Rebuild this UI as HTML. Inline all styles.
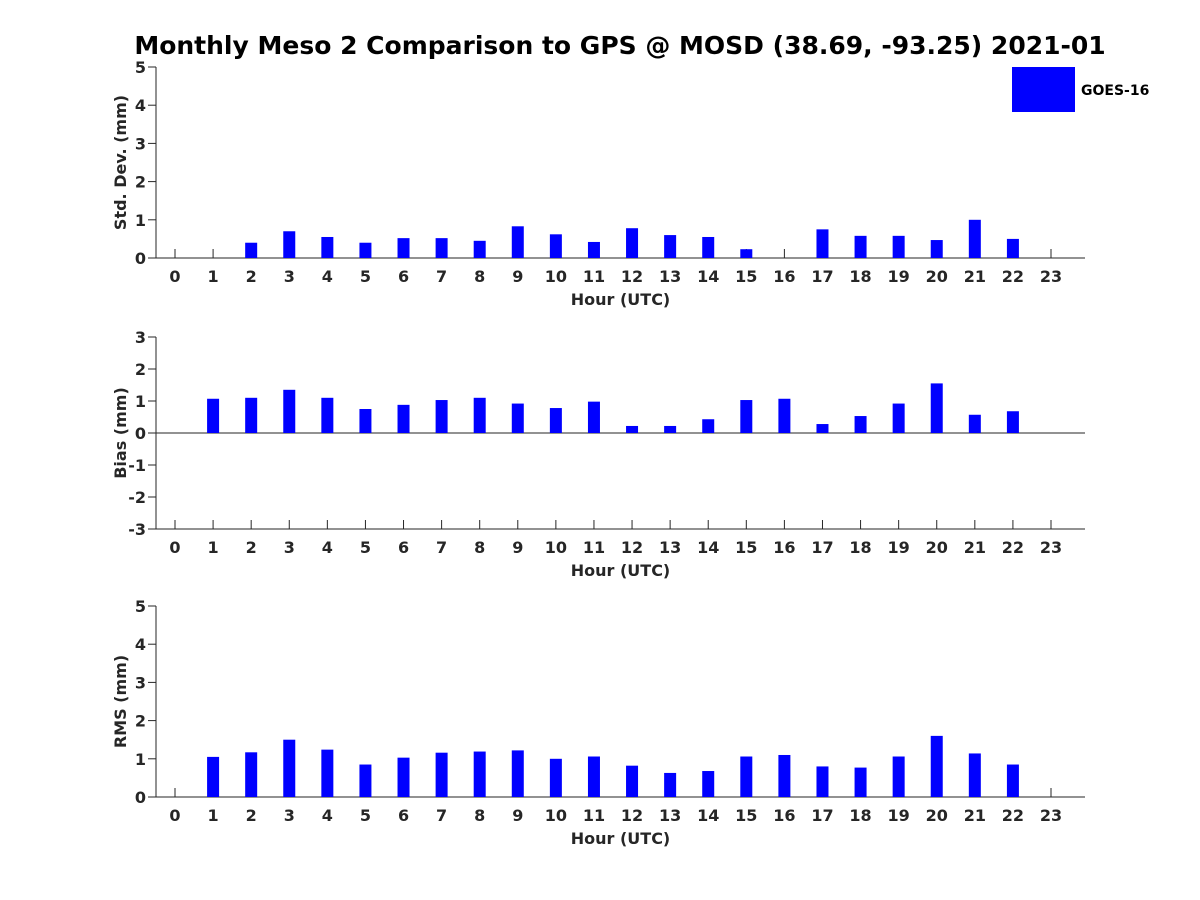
<!DOCTYPE html>
<html><head><meta charset="utf-8"><style>body{margin:0;background:#fff}svg{display:block}text{font-family:"DejaVu Sans","Liberation Sans",sans-serif;font-weight:bold;fill:#262626}</style></head>
<body>
<svg id="c" width="1200" height="900" xmlns="http://www.w3.org/2000/svg">
<text x="620" y="54" text-anchor="middle" font-size="25" style="fill:#000">Monthly Meso 2 Comparison to GPS @ MOSD (38.69, -93.25) 2021-01</text>
<rect x="1012" y="67" width="63" height="45" fill="#0000ff"/>
<text x="1081" y="95" font-size="14" style="fill:#000">GOES-16</text>
</svg>
<script>
const hours=[0,1,2,3,4,5,6,7,8,9,10,11,12,13,14,15,16,17,18,19,20,21,22,23];
const stdVals=[null,null,0.4,0.7,0.55,0.4,0.52,0.52,0.45,0.83,0.62,0.42,0.78,0.6,0.55,0.23,null,0.75,0.58,0.58,0.47,1.0,0.5,null];
const biasVals=[null,1.07,1.1,1.35,1.1,0.75,0.88,1.03,1.1,0.92,0.78,0.98,0.22,0.22,0.43,1.03,1.07,0.28,0.53,0.92,1.55,0.57,0.68,null];
const rmsVals=[null,1.05,1.17,1.5,1.24,0.85,1.03,1.16,1.19,1.22,1.0,1.06,0.82,0.63,0.68,1.06,1.1,0.8,0.77,1.06,1.6,1.14,0.85,null];
const stdTicks=[0,1,2,3,4,5];
const biasTicks=[-3,-2,-1,0,1,2,3];
const rmsTicks=[0,1,2,3,4,5];
const svg=document.getElementById('c');
const NS='http://www.w3.org/2000/svg';
function mk(tag,attrs){const e=document.createElementNS(NS,tag);for(const k in attrs)e.setAttribute(k,attrs[k]);svg.appendChild(e);return e;}
const L=156,R=1085;
function xs(h){return 175+h*38.087;}
function panel(name,top,bot,ymin,ymax,ticks,vals,ylabel){
  const ys=v=>bot-(v-ymin)/(ymax-ymin)*(bot-top);
  let e=mk('line',{x1:L,y1:top,x2:L,y2:bot,stroke:'#262626','stroke-width':1});
  
  e=mk('line',{x1:L,y1:bot,x2:R,y2:bot,stroke:'#262626','stroke-width':1});
  
  if(ymin<0){e=mk('line',{x1:L,y1:ys(0),x2:R,y2:ys(0),stroke:'#262626','stroke-width':1});
  }
  ticks.forEach(t=>{const y=ys(t);
    mk('line',{x1:L-8,y1:y,x2:L,y2:y,stroke:'#262626'});
    e=mk('text',{x:L-10,y:y+6,'text-anchor':'end','font-size':16});e.textContent=t;
    });
  hours.forEach((h,i)=>{const x=xs(h);
    mk('line',{x1:x,y1:bot,x2:x,y2:bot-9,stroke:'#262626'});
    e=mk('text',{x:x,y:bot+24,'text-anchor':'middle','font-size':16});e.textContent=h;
    
    const v=vals[i];if(v==null)return;
    const y0=ys(Math.max(0,ymin)),y1=ys(v);
    e=mk('rect',{x:x-6,y:Math.min(y0,y1),width:12,height:Math.abs(y1-y0),fill:'#0000ff'});
    });
  e=mk('text',{x:(L+R)/2,y:bot+47,'text-anchor':'middle','font-size':16});e.textContent='Hour (UTC)';
  
  const cy=(top+bot)/2;
  e=mk('text',{x:126,y:cy,'text-anchor':'middle','font-size':16,transform:'rotate(-90 126 '+cy+')'});e.textContent=ylabel;
  
}
panel('std',67,258,0,5,stdTicks,stdVals,'Std. Dev. (mm)');
panel('bias',337,529,-3,3,biasTicks,biasVals,'Bias (mm)');
panel('rms',606,797,0,5,rmsTicks,rmsVals,'RMS (mm)');
</script>
</body></html>
